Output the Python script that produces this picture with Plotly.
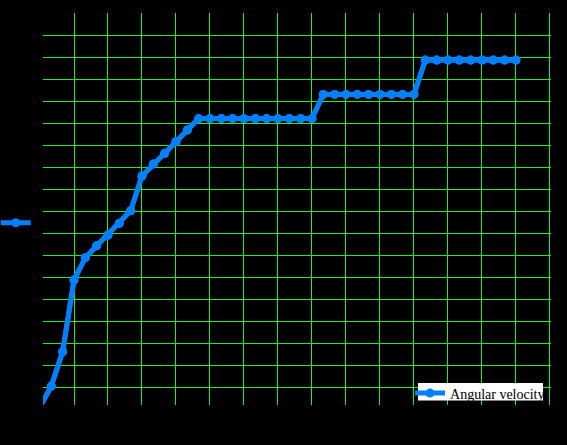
import plotly.graph_objects as go

# sample index (time steps)
x_steps = list(range(43))
# angular velocity values (grid units)
angular_velocity = [
    0.0, 0.95, 2.51, 5.77, 6.79, 7.33, 7.82, 8.35, 8.92, 10.5,
    11.05, 11.53, 12.06, 12.59, 13.11,
    13.11, 13.11, 13.11, 13.11, 13.11, 13.11, 13.11, 13.11, 13.11, 13.11,
    14.21, 14.21, 14.21, 14.21, 14.21, 14.21, 14.21, 14.21, 14.21,
    15.77, 15.77, 15.77, 15.77, 15.77, 15.77, 15.77, 15.77, 15.77,
]
series_name = "Angular velocity"

BLUE = "rgb(0,128,255)"
GRID = "rgb(40,235,30)"

fig = go.Figure()
fig.add_trace(go.Scatter(
    x=x_steps, y=angular_velocity, mode="lines+markers", name=series_name,
    line=dict(color=BLUE, width=5),
    marker=dict(color=BLUE, size=9, symbol="circle"),
    legend="legend",
))
fig.add_trace(go.Scatter(
    x=x_steps, y=angular_velocity, mode="lines+markers", name="",
    line=dict(color=BLUE, width=5),
    marker=dict(color=BLUE, size=9, symbol="circle"),
    legend="legend2",
))

# white box behind the legend entry
fig.add_shape(type="rect", xref="paper", yref="paper",
              x0=(418 - 43) / 508, x1=(543 - 43) / 508,
              y0=(405 - 400.5) / 392, y1=(405 - 383) / 392,
              fillcolor="white", line=dict(width=0), layer="above")

fig.update_layout(
    width=567, height=445,
    paper_bgcolor="black", plot_bgcolor="black",
    margin=dict(l=43, r=16, t=13, b=40, autoexpand=False),
    showlegend=True,
    legend=dict(
        x=0.7225, y=0.0702, xanchor="left", yanchor="top",
        bgcolor="rgba(0,0,0,0)", borderwidth=0,
        font=dict(family="Liberation Serif", size=14, color="black"),
        itemwidth=30,
    ),
    legend2=dict(
        x=-0.093, y=0.464, xanchor="left", yanchor="middle",
        bgcolor="rgba(0,0,0,0)", borderwidth=0,
        font=dict(family="Liberation Serif", size=14, color="black"),
        itemwidth=30,
    ),
    xaxis=dict(
        range=[0.265, 45.09], tick0=0, dtick=3,
        showgrid=True, gridcolor=GRID, gridwidth=1,
        zeroline=False, showline=False, showticklabels=False, ticks="",
    ),
    yaxis=dict(
        range=[0.0909, 17.9100], tick0=0.90909, dtick=1,
        showgrid=True, gridcolor=GRID, gridwidth=1,
        zeroline=False, showline=False, showticklabels=False, ticks="",
    ),
)

fig.write_html("out.html", config={"displayModeBar": False},
               post_script="document.body.style.margin='0px';")
